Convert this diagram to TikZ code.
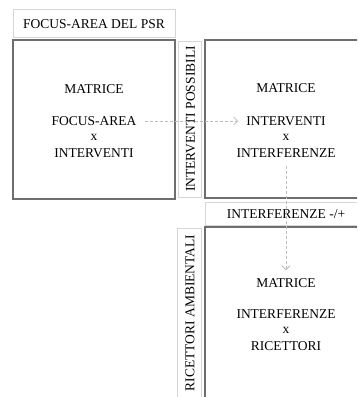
\documentclass[tikz,border=0pt]{standalone}
\usepackage{fontspec}
\setmainfont{Liberation Serif}
\usetikzlibrary{arrows.meta}
\definecolor{boxgray}{HTML}{6E6E6E}
\definecolor{lblgray}{HTML}{D6D6D6}
\definecolor{arrgray}{HTML}{BDBDBD}
\tikzset{
  mainbox/.style={draw=boxgray, line width=1.4pt},
  lblbox/.style={draw=lblgray, line width=0.9pt},
  txt/.style={inner sep=0pt, font=\fontsize{13.5}{16}\selectfont, text=black},
  flowarrow/.style={draw=arrgray, line width=0.8pt, dash pattern=on 3pt off 2pt,
    -{Straight Barb[length=4pt,width=8pt]}},
}
\begin{document}
\begin{tikzpicture}[x=1pt,y=-1pt]
\useasboundingbox (0,0) rectangle (357,397);
\clip (0,0) rectangle (357,397);
\fill[white] (0,0) rectangle (357,397);
% label boxes
\draw[lblbox] (13,9) rectangle (175,37);
\node[txt] (l1) at (94,24) {FOCUS-AREA DEL PSR};
\draw[lblbox] (178,41) rectangle (201,197);
\node[txt, rotate=90] (l2) at (190.5,119) {INTERVENTI POSSIBILI};
\draw[lblbox] (205,202) rectangle (367,225);
\node[txt] (l3) at (286,214) {INTERFERENZE -/+};
\draw[lblbox] (177,228) rectangle (201,405);
\node[txt, rotate=90] (l4) at (190,313) {RICETTORI AMBIENTALI};
% main boxes
\draw[mainbox] (13,40) rectangle (175,199);
\draw[mainbox] (205,40) rectangle (367,198);
\draw[mainbox] (205,227) rectangle (367,400);
% box 1 text
\node[txt] (m1) at (94,89) {MATRICE};
\node[txt] (a1) at (94,121) {FOCUS-AREA};
\node[txt] (x1) at (94,137) {x};
\node[txt] (b1) at (94,153) {INTERVENTI};
% box 2 text
\node[txt] (m2) at (286,88) {MATRICE};
\node[txt] (a2) at (286,121) {INTERVENTI};
\node[txt] (x2) at (286,137) {x};
\node[txt] (b2) at (286,153) {INTERFERENZE};
% box 3 text
\node[txt] (m3) at (286,283) {MATRICE};
\node[txt] (a3) at (286,314) {INTERFERENZE};
\node[txt] (x3) at (286,330) {x};
\node[txt] (b3) at (286,346) {RICETTORI};
% arrows
\draw[flowarrow, shorten <=8pt, shorten >=8pt] (a1.east) -- (a2.west);
\draw[flowarrow, shorten <=8pt, shorten >=8pt] (b2.south) -- (m3.north);
\end{tikzpicture}
\end{document}
